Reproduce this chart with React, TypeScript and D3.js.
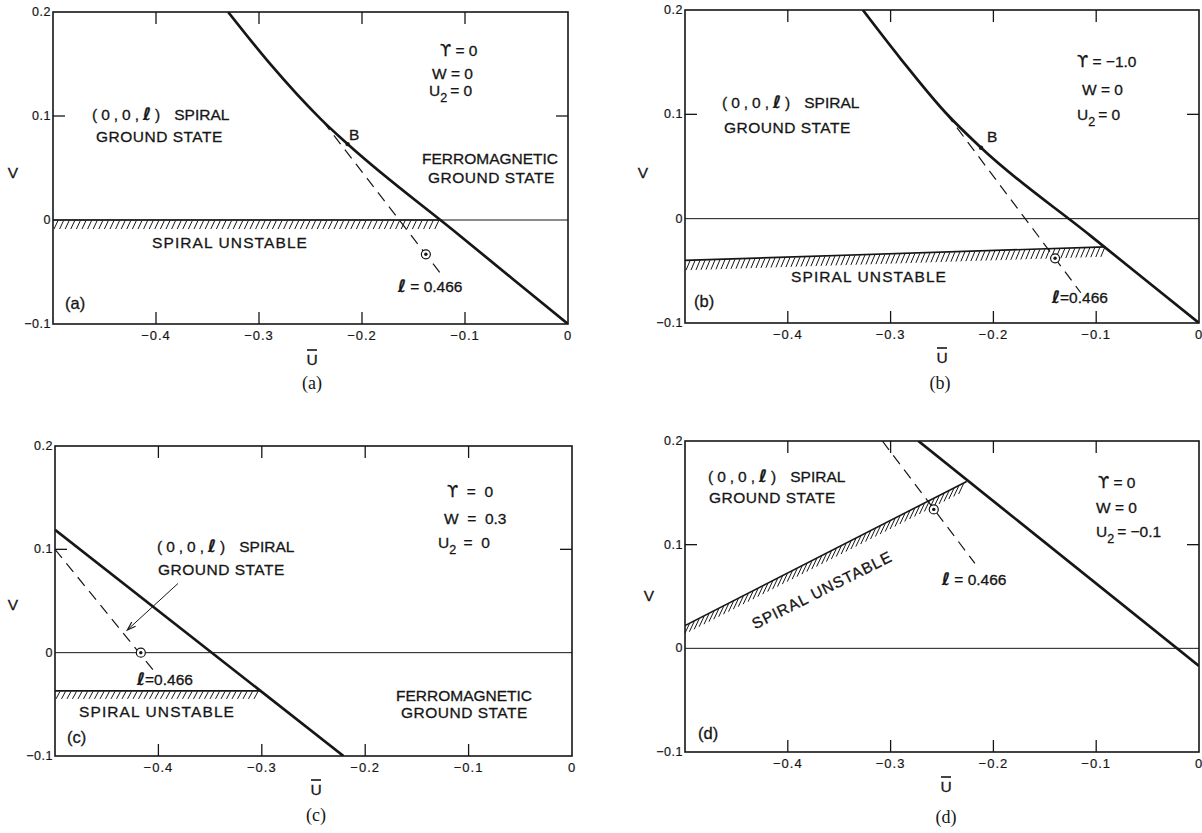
import React, {useEffect, useRef} from "react";
import * as d3 from "d3";

type Pt = [number, number];

const INK = "#161616";
const FONT = "'Liberation Sans', 'DejaVu Sans', Arial, sans-serif";
const SERIF = "'Liberation Serif', 'DejaVu Serif', serif";

// axes shared by the four panels
const uDomain: Pt = [-0.5, 0];
const vDomain: Pt = [-0.1, 0.2];
const uTicks = [-0.4, -0.3, -0.2, -0.1, 0];
const uTickLabels = ["\u22120.4", "\u22120.3", "\u22120.2", "\u22120.1", "0"];
const vTicks = [0.2, 0.1, 0, -0.1];
const vTickLabels = ["0.2", "0.1", "0", "\u22120.1"];

// (a) gamma = 0, W = 0, U2 = 0
const ferroA: Pt[] = [[-0.33, 0.2], [-0.29, 0.151], [-0.24, 0.097], [-0.214, 0.073], [-0.107, -0.0135], [0, -0.1]];
const unstableA: Pt[] = [[-0.5, 0], [-0.124, 0]];
const dashedA: Pt[] = [[-0.238, 0.095], [-0.124, -0.051]];
const markA: Pt = [-0.138, -0.033];
const pointA: Pt = [-0.214, 0.073];

// (b) gamma = -1.0, W = 0, U2 = 0
const ferroB: Pt[] = [[-0.327, 0.2], [-0.29, 0.153], [-0.246, 0.101], [-0.212, 0.068], [-0.106, -0.016], [0, -0.1]];
const unstableB: Pt[] = [[-0.5, -0.04], [-0.091, -0.027]];
const dashedB: Pt[] = [[-0.246, 0.101], [-0.115, -0.071]];
const markB: Pt = [-0.14, -0.038];
const pointB: Pt = [-0.212, 0.068];

// (c) gamma = 0, W = 0.3, U2 = 0
const ferroC: Pt[] = [[-0.5, 0.119], [-0.221, -0.1]];
const unstableC: Pt[] = [[-0.5, -0.037], [-0.301, -0.037]];
const dashedC: Pt[] = [[-0.5, 0.1], [-0.404, -0.018]];
const markC: Pt = [-0.417, 0];
const arrowC: Pt[] = [[-0.381, 0.067], [-0.43, 0.022]];

// (d) gamma = 0, W = 0, U2 = -0.1
const ferroD: Pt[] = [[-0.273, 0.2], [0, -0.017]];
const unstableD: Pt[] = [[-0.5, 0.022], [-0.226, 0.161]];
const dashedD: Pt[] = [[-0.308, 0.2], [-0.218, 0.082]];
const markD: Pt = [-0.258, 0.134];

interface Part { t: string; sub?: boolean; ell?: boolean; greek?: boolean; ls?: number; dx?: number; }
interface Label { x: number; y: number; parts: (string | Part)[]; size?: number; rotate?: number; mid?: boolean; ls?: number; }

const ELL: Part = {t: "\u2113", ell: true};
const GAMMA: Part = {t: "\u03d2", greek: true};
const tuple = (x: number, y: number): Label => ({
  x, y,
  parts: [{t: "(0,0,", ls: 4}, {t: "\u2113", ell: true, ls: 4}, {t: ")"}, {t: "SPIRAL", dx: 14}],
});
const txt = (x: number, y: number, t: string, ls = 0): Label => ({x, y, parts: [t], ls});
const gam = (x: number, y: number, rest: string): Label => ({x, y, parts: [GAMMA, rest]});
const u2 = (x: number, y: number, rest: string): Label => ({
  x, y, parts: [{t: "U"}, {t: "2", sub: true}, {t: rest, dx: 3}],
});

interface Panel {
  name: string;
  frame: {left: number; top: number; right: number; bottom: number};
  ferro: Pt[];
  unstable: Pt[];
  hatch: {spacing: number; dx: number; dy: number; width: number};
  dashed: Pt[];
  mark: Pt;
  point?: Pt;
  arrow?: Pt[];
  labels: Label[];
  vLabel: Pt;
  uLabel: Pt;
  caption: Pt;
}

const panels: Panel[] = [
  {
    name: "a",
    frame: {left: 53, top: 12, right: 568, bottom: 324},
    ferro: ferroA, unstable: unstableA,
    hatch: {spacing: 5.6, dx: -4, dy: 9, width: 1},
    dashed: dashedA, mark: markA, point: pointA,
    labels: [
      tuple(39, 108), txt(43, 130, "GROUND STATE", 0.5),
      gam(387, 44, " = 0"), txt(379, 67, "W = 0"), u2(376, 84, "= 0"),
      txt(369, 152, "FERROMAGNETIC"), txt(375, 171, "GROUND STATE", 0.5),
      txt(296, 128, "B"),
      txt(99, 236, "SPIRAL UNSTABLE", 1.1),
      {x: 345, y: 280, parts: [ELL, " = 0.466"]},
      {x: 12, y: 297, parts: ["(a)"], size: 16.5},
    ],
    vLabel: [13, 173], uLabel: [312, 360], caption: [312, 383],
  },
  {
    name: "b",
    frame: {left: 685, top: 10, right: 1199, bottom: 323},
    ferro: ferroB, unstable: unstableB,
    hatch: {spacing: 5, dx: -4, dy: 10, width: 1},
    dashed: dashedB, mark: markB, point: pointB,
    labels: [
      tuple(37, 98), txt(39, 123, "GROUND STATE", 0.5),
      gam(392, 57, " = \u22121.0"), txt(397, 85, "W = 0"), u2(392, 110, "= 0"),
      txt(302, 132, "B"),
      txt(106, 272, "SPIRAL UNSTABLE", 1.1),
      {x: 367, y: 293, parts: [ELL, "=0.466"]},
      {x: 9, y: 297, parts: ["(b)"], size: 16.5},
    ],
    vLabel: [643, 173], uLabel: [942, 358], caption: [940, 383],
  },
  {
    name: "c",
    frame: {left: 55, top: 446, right: 572, bottom: 756},
    ferro: ferroC, unstable: unstableC,
    hatch: {spacing: 5.5, dx: -4, dy: 8, width: 1},
    dashed: dashedC, mark: markC, arrow: arrowC,
    labels: [
      tuple(102, 106), txt(103, 129, "GROUND STATE", 0.5),
      gam(392, 51, "  =  0"), txt(389, 78, "W  =  0.3"), u2(383, 102, " =  0"),
      {x: 82, y: 239, parts: [ELL, "=0.466"]},
      txt(24, 271, "SPIRAL UNSTABLE", 1.1),
      txt(341, 255, "FERROMAGNETIC"), txt(346, 272, "GROUND STATE", 0.5),
      {x: 12, y: 297, parts: ["(c)"], size: 16.5},
    ],
    vLabel: [13, 605], uLabel: [316, 790], caption: [316, 815],
  },
  {
    name: "d",
    frame: {left: 685, top: 441, right: 1199, bottom: 752},
    ferro: ferroD, unstable: unstableD,
    hatch: {spacing: 5.5, dx: -5, dy: 11, width: 1},
    dashed: dashedD, mark: markD,
    labels: [
      tuple(23, 41), txt(24, 62, "GROUND STATE", 0.5),
      gam(413, 47, " = 0"), txt(411, 72, "W = 0"), u2(411, 96, "= \u22120.1"),
      {x: 257, y: 144, parts: [ELL, " = 0.466"]},
      {x: 137, y: 149, parts: ["SPIRAL UNSTABLE"], rotate: -26.6, mid: true, ls: 1},
      {x: 13, y: 298, parts: ["(d)"], size: 16.5},
    ],
    vLabel: [649, 596], uLabel: [946, 787], caption: [946, 817],
  },
];

function drawLabel(g: any, lab: Label) {
  const t = g.append("text")
    .attr("x", lab.x).attr("y", lab.y)
    .attr("font-family", FONT)
    .attr("font-size", lab.size ?? 15.5)
    .attr("fill", INK)
    .attr("stroke", INK).attr("stroke-width", 0.3)
    .style("white-space", "pre");
  if (lab.ls) t.attr("letter-spacing", lab.ls);
  if (lab.mid) t.attr("text-anchor", "middle").attr("dy", "0.35em");
  if (lab.rotate) t.attr("transform", `rotate(${lab.rotate},${lab.x},${lab.y})`);
  let shift = 0;
  lab.parts.forEach((raw) => {
    const p: Part = typeof raw === "string" ? {t: raw} : raw;
    const ts = t.append("tspan").text(p.t);
    let dy = 0;
    if (p.sub) { dy = 6 - shift; shift = 6; ts.attr("font-size", 12.5); }
    else if (shift) { dy = -shift; shift = 0; }
    if (dy) ts.attr("dy", dy);
    if (p.dx) ts.attr("dx", p.dx);
    if (p.ls) ts.attr("letter-spacing", p.ls);
    if (p.greek) ts.attr("font-family", "'DejaVu Sans', sans-serif").attr("font-size", 16);
    if (p.ell) {
      ts.attr("font-family", "'DejaVu Sans', sans-serif").attr("font-weight", "bold")
        .attr("font-style", "italic").attr("font-size", 17);
    }
  });
}

function drawPanel(root: any, p: Panel) {
  const {left, top, right, bottom} = p.frame;
  const x = d3.scaleLinear().domain(uDomain).range([left, right]);
  const y = d3.scaleLinear().domain(vDomain).range([bottom, top]);
  const px = (d: Pt): [number, number] => [x(d[0]), y(d[1])];
  const g = root.append("g");

  const clipId = "clip-" + p.name;
  g.append("clipPath").attr("id", clipId)
    .append("rect").attr("x", left).attr("y", top).attr("width", right - left).attr("height", bottom - top);
  const inner = g.append("g").attr("clip-path", `url(#${clipId})`);

  // V = 0 reference line
  inner.append("line")
    .attr("x1", left).attr("x2", right).attr("y1", y(0)).attr("y2", y(0))
    .attr("stroke", INK).attr("stroke-width", 1);

  // spiral-unstable boundary with hatching below it
  const [a, b] = p.unstable.map(px);
  const len = Math.hypot(b[0] - a[0], b[1] - a[1]);
  const hatchPts = d3.range(5, len, p.hatch.spacing).map((s) => {
    const f = s / len;
    return [a[0] + f * (b[0] - a[0]), a[1] + f * (b[1] - a[1])];
  });
  inner.selectAll("line.hatch").data(hatchPts).join("line")
    .attr("class", "hatch")
    .attr("x1", (d: number[]) => d[0]).attr("y1", (d: number[]) => d[1] + 0.5)
    .attr("x2", (d: number[]) => d[0] + p.hatch.dx).attr("y2", (d: number[]) => d[1] + p.hatch.dy)
    .attr("stroke", INK).attr("stroke-width", p.hatch.width);
  inner.append("path")
    .attr("d", d3.line()(p.unstable.map(px)))
    .attr("fill", "none").attr("stroke", INK).attr("stroke-width", 1.6);

  // l = 0.466 dashed line
  inner.append("path")
    .attr("d", d3.line()(p.dashed.map(px)))
    .attr("fill", "none").attr("stroke", INK).attr("stroke-width", 1.2)
    .attr("stroke-dasharray", "11,7");

  // ferromagnetic boundary
  const ferroLine = d3.line<Pt>().x((d) => x(d[0])).y((d) => y(d[1])).curve(d3.curveMonotoneX);
  inner.append("path")
    .attr("d", ferroLine(p.ferro))
    .attr("fill", "none").attr("stroke", INK).attr("stroke-width", 2.7);

  // circled point on the dashed line
  const [mx, my] = px(p.mark);
  g.append("circle").attr("cx", mx).attr("cy", my).attr("r", 4.5)
    .attr("fill", "white").attr("stroke", INK).attr("stroke-width", 1.2);
  g.append("circle").attr("cx", mx).attr("cy", my).attr("r", 1.7).attr("fill", INK);

  if (p.point) {
    const [bx, by] = px(p.point);
    g.append("circle").attr("cx", bx).attr("cy", by).attr("r", 2.2).attr("fill", INK);
  }

  if (p.arrow) {
    const [s, e] = p.arrow.map(px);
    const ang = Math.atan2(e[1] - s[1], e[0] - s[0]);
    const wing = (da: number) => [e[0] - 9 * Math.cos(ang + da), e[1] - 9 * Math.sin(ang + da)];
    const w1 = wing(0.32), w2 = wing(-0.32);
    g.append("line").attr("x1", s[0]).attr("y1", s[1]).attr("x2", e[0]).attr("y2", e[1])
      .attr("stroke", INK).attr("stroke-width", 1);
    g.append("path").attr("d", `M${w1[0]},${w1[1]}L${e[0]},${e[1]}L${w2[0]},${w2[1]}`)
      .attr("fill", "none").attr("stroke", INK).attr("stroke-width", 1.2);
  }

  // frame
  g.append("rect").attr("x", left).attr("y", top).attr("width", right - left).attr("height", bottom - top)
    .attr("fill", "none").attr("stroke", INK).attr("stroke-width", 1.6);

  // inward ticks
  const tickLen = 12;
  uTicks.filter((u) => u > uDomain[0] && u < uDomain[1]).forEach((u) => {
    g.append("line").attr("x1", x(u)).attr("x2", x(u)).attr("y1", top).attr("y2", top + tickLen)
      .attr("stroke", INK).attr("stroke-width", 1.3);
    g.append("line").attr("x1", x(u)).attr("x2", x(u)).attr("y1", bottom).attr("y2", bottom - tickLen)
      .attr("stroke", INK).attr("stroke-width", 1.3);
  });
  vTicks.filter((v) => v > vDomain[0] && v < vDomain[1] && v !== 0).forEach((v) => {
    g.append("line").attr("x1", left).attr("x2", left + tickLen).attr("y1", y(v)).attr("y2", y(v))
      .attr("stroke", INK).attr("stroke-width", 1.3);
    g.append("line").attr("x1", right).attr("x2", right - tickLen).attr("y1", y(v)).attr("y2", y(v))
      .attr("stroke", INK).attr("stroke-width", 1.3);
  });

  // tick labels
  g.selectAll("text.ul").data(uTicks).join("text")
    .attr("class", "ul")
    .attr("x", (u: number) => x(u)).attr("y", bottom + 16)
    .attr("text-anchor", "middle").attr("font-family", FONT).attr("font-size", 13)
    .attr("letter-spacing", 1).attr("fill", INK).attr("stroke", INK).attr("stroke-width", 0.2)
    .text((_: number, i: number) => uTickLabels[i]);
  g.selectAll("text.vl").data(vTicks).join("text")
    .attr("class", "vl")
    .attr("x", left - 2).attr("y", (v: number) => y(v) + 4)
    .attr("text-anchor", "end").attr("font-family", FONT).attr("font-size", 12.5)
    .attr("letter-spacing", 0.5).attr("fill", INK).attr("stroke", INK).attr("stroke-width", 0.2)
    .text((_: number, i: number) => vTickLabels[i]);

  // annotations
  const notes = g.append("g").attr("transform", `translate(${left},${top})`);
  p.labels.forEach((lab) => drawLabel(notes, lab));

  // axis titles
  g.append("text").attr("x", p.vLabel[0]).attr("y", p.vLabel[1]).attr("dy", "0.35em")
    .attr("text-anchor", "middle").attr("font-family", FONT).attr("font-size", 15.5)
    .attr("fill", INK).attr("stroke", INK).attr("stroke-width", 0.3).text("V");
  g.append("text").attr("x", p.uLabel[0]).attr("y", p.uLabel[1]).attr("dy", "0.35em")
    .attr("text-anchor", "middle").attr("font-family", FONT).attr("font-size", 15.5)
    .attr("fill", INK).attr("stroke", INK).attr("stroke-width", 0.3).text("U");
  g.append("line")
    .attr("x1", p.uLabel[0] - 5).attr("x2", p.uLabel[0] + 5)
    .attr("y1", p.uLabel[1] - 10).attr("y2", p.uLabel[1] - 10)
    .attr("stroke", INK).attr("stroke-width", 1.6);

  // caption under the panel
  g.append("text").attr("x", p.caption[0]).attr("y", p.caption[1]).attr("dy", "0.35em")
    .attr("text-anchor", "middle").attr("font-family", SERIF).attr("font-size", 18).attr("fill", INK)
    .text(`(${p.name})`);
}

export default function App() {
  const ref = useRef<SVGSVGElement | null>(null);

  useEffect(() => {
    if (!ref.current) return;
    const svg = d3.select(ref.current);
    svg.selectAll("*").remove();
    svg.append("rect").attr("width", 1202).attr("height", 833).attr("fill", "white");
    panels.forEach((p) => drawPanel(svg, p));
  }, []);

  return (
    <svg
      ref={ref}
      width={1202}
      height={833}
      style={{position: "absolute", left: 0, top: 0, background: "white"}}
    />
  );
}
